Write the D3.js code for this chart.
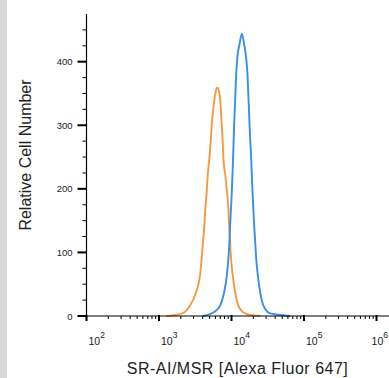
<!DOCTYPE html>
<meta charset="utf-8">
<style>
    body {
        margin: 0;
        background: #fff;
        font-family: "Liberation Sans", Arial, sans-serif;
    }
    .axis path, .axis line {
        stroke: #000;
        fill: none;
    }
    .tick-label {
        font-size: 10.5px;
        fill: #1a1a1a;
    }
    .title {
        font-size: 16px;
        fill: #222;
    }
    path.curve {
        fill: none;
        stroke-width: 1.9;
    }
</style>
<body>
<script src="https://cdn.jsdelivr.net/npm/d3@7/dist/d3.min.js"></script>
<script>

    // control (orange) and antibody (blue) histograms
    var orangeIntensity = [1259, 1746, 2239, 2673, 3236, 3673, 3873, 4046, 4217, 4355, 4550, 4699, 4943, 5164, 5333, 5623, 6026, 6383,
                           6761, 7112, 7328, 7568, 7727, 8222, 8670, 9057, 9268, 9572, 9863, 10423, 11220, 12474, 14125, 16293, 19953, 25119];
    var orangeCount     = [0, 2, 6, 16, 37, 63, 90, 116, 142, 169, 195, 221, 248, 274, 300, 327, 352, 359,
                           352, 327, 300, 274, 248, 221, 195, 169, 142, 116, 90, 63, 37, 16, 7, 3, 1, 0];

    var blueIntensity = [3981, 5058, 6026, 6950, 7907, 8610, 9057, 9354, 9572, 10093, 10520, 10864, 11117, 11350, 11588, 12023, 12882, 13900,
                         14962, 15922, 16634, 16982, 17378, 17742, 18664, 19498, 20559, 21232, 21928, 23121, 24889, 27669, 34277, 44668, 64565];
    var blueCount     = [0, 3, 8, 16, 37, 63, 90, 116, 142, 195, 248, 300, 327, 353, 379, 406, 427, 444,
                         427, 406, 379, 353, 327, 300, 248, 195, 142, 116, 90, 63, 37, 16, 4, 2, 0];

    var xMajor = [1e2, 1e3, 1e4, 1e5, 1e6];
    var xExponents = ["2", "3", "4", "5", "6"];
    var yMajor = [0, 100, 200, 300, 400];

    var width = 389, height = 378;

    var x = d3.scaleLog()
            .domain([1e2, 1e6])
            .range([86.5, 376.5]);

    var y = d3.scaleLinear()
            .domain([0, 475])
            .range([316, 14]);

    var svg = d3.select("body").append("svg")
            .attr("width", width)
            .attr("height", height);

    // grey strip on the left edge
    svg.append("rect")
            .attr("x", 0)
            .attr("y", 0)
            .attr("width", 7)
            .attr("height", height)
            .attr("fill", "#d9d9d9");

    // minor ticks
    var xMinor = [];
    xMajor.slice(0, 4).forEach(function(d) {
        for (var k = 2; k < 10; k++) xMinor.push(d * k);
    });
    var yMinor = d3.range(25, 475, 25).filter(function(d) { return d % 100 !== 0; });

    var line = d3.line()
            .x(function(d) { return x(d[0]); })
            .y(function(d) { return y(d[1]); })
            .curve(d3.curveMonotoneX);

    svg.append("path")
            .attr("class", "curve")
            .attr("stroke", "#f59b3f")
            .attr("d", line(d3.zip(orangeIntensity, orangeCount)));

    svg.append("path")
            .attr("class", "curve")
            .attr("stroke", "#3a8fe6")
            .attr("d", line(d3.zip(blueIntensity, blueCount)));

    // x axis
    var gx = svg.append("g")
            .attr("class", "axis x")
            .attr("transform", "translate(0," + y(0) + ")");

    gx.append("line")
            .attr("x1", x(1e2)).attr("x2", width)
            .attr("y1", 0).attr("y2", 0)
            .attr("stroke-width", 1.2);

    gx.selectAll("line.minor").data(xMinor).enter().append("line")
            .attr("class", "minor")
            .attr("x1", x).attr("x2", x)
            .attr("y1", 0).attr("y2", 3)
            .attr("stroke-width", 1);

    gx.selectAll("line.major").data(xMajor).enter().append("line")
            .attr("class", "major")
            .attr("x1", x).attr("x2", x)
            .attr("y1", -1).attr("y2", 5)
            .attr("stroke-width", 2);

    // the last label would run off the page, so it is pulled in a little
    var xl = gx.selectAll("text").data(xMajor).enter().append("text")
            .attr("class", "tick-label")
            .attr("x", function(d, i) { return i === 4 ? width - 1 : x(d) + 2; })
            .attr("y", 29)
            .style("text-anchor", function(d, i) { return i === 4 ? "end" : "start"; });
    xl.append("tspan").text("10");
    xl.append("tspan")
            .attr("dy", -7)
            .style("font-size", "8.5px")
            .text(function(d, i) { return xExponents[i]; });

    // y axis
    var gy = svg.append("g")
            .attr("class", "axis y")
            .attr("transform", "translate(" + x(1e2) + ",0)");

    gy.append("line")
            .attr("x1", 0).attr("x2", 0)
            .attr("y1", y(475)).attr("y2", y(0) + 4)
            .attr("stroke-width", 1.2);

    gy.selectAll("line.minor").data(yMinor).enter().append("line")
            .attr("class", "minor")
            .attr("x1", -4).attr("x2", 0)
            .attr("y1", y).attr("y2", y)
            .attr("stroke-width", 1);

    gy.selectAll("line.major").data(yMajor).enter().append("line")
            .attr("class", "major")
            .attr("x1", -9).attr("x2", 0)
            .attr("y1", y).attr("y2", y)
            .attr("stroke-width", 2);

    gy.selectAll("text").data(yMajor).enter().append("text")
            .attr("class", "tick-label")
            .attr("x", -14)
            .attr("y", function(d) { return y(d) + 3.5; })
            .style("text-anchor", "end")
            .style("font-size", "9.5px")
            .text(function(d) { return d; });

    // titles
    svg.append("text")
            .attr("class", "title")
            .attr("x", 237.5)
            .attr("y", 374)
            .style("text-anchor", "middle")
            .style("letter-spacing", "0.5px")
            .text("SR-AI/MSR [Alexa Fluor 647]");

    svg.append("text")
            .attr("class", "title")
            .attr("transform", "translate(31,155) rotate(-90)")
            .style("text-anchor", "middle")
            .text("Relative Cell Number");

</script>
